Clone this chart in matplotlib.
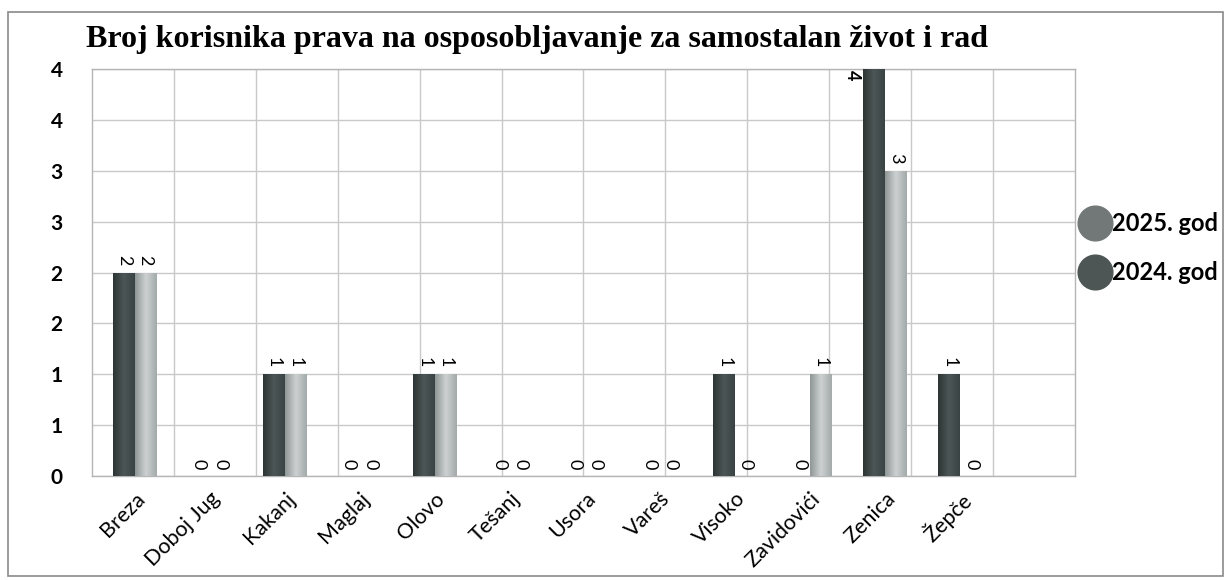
import matplotlib.pyplot as plt
import numpy as np
from matplotlib.colors import LinearSegmentedColormap
from matplotlib.patches import Rectangle
from matplotlib.lines import Line2D

categories = ["Breza", "Doboj Jug", "Kakanj", "Maglaj", "Olovo", "Tešanj",
              "Usora", "Vareš", "Visoko", "Zavidovići", "Zenica", "Žepče"]
god_2024 = [2, 0, 1, 0, 1, 0, 0, 0, 1, 0, 4, 1]
god_2025 = [2, 0, 1, 0, 1, 0, 0, 0, 0, 1, 3, 0]
y_ticks = [0, 0.5, 1, 1.5, 2, 2.5, 3, 3.5, 4]
y_labels = ["0", "1", "1", "2", "2", "3", "3", "4", "4"]

title = "Broj korisnika prava na osposobljavanje za samostalan život i rad"

dark_cmap = LinearSegmentedColormap.from_list("dark", ["#2c3434", "#4d5656", "#3a4343"])
light_cmap = LinearSegmentedColormap.from_list("light", ["#8f9696", "#cdd1d1", "#a3aaaa"])

fig = plt.figure(figsize=(12.31, 5.8), dpi=100)
fig.patches.append(Rectangle((8 / 1231, 4 / 580), 1215 / 1231, 564 / 580,
                             transform=fig.transFigure, fill=False,
                             edgecolor="#8a8a8a", linewidth=1.2))
ax = fig.add_axes([0.0747, 0.1793, 0.7986, 0.7017])

x = np.arange(len(categories))
width = 0.29
ax.set_xlim(-0.57, 12.53)
ax.set_ylim(0, 4)

bars_a = ax.bar(x - width / 2, god_2024, width, color="#3c4545", zorder=3)
bars_b = ax.bar(x + width / 2, god_2025, width, color="#b4b9b9", zorder=3)

# horizontal gradient inside each bar
grad = np.linspace(0, 1, 64).reshape(1, -1)
for bars, cmap in ((bars_a, dark_cmap), (bars_b, light_cmap)):
    for b in bars:
        h = b.get_height()
        if h <= 0:
            continue
        x0 = b.get_x()
        im = ax.imshow(grad, cmap=cmap, aspect="auto", zorder=4,
                       extent=(x0, x0 + b.get_width(), 0, h))
        im.set_clip_path(b)

# value labels, rotated like the original
for bars, vals in ((bars_a, god_2024), (bars_b, god_2025)):
    for b, v in zip(bars, vals):
        cx = b.get_x() + b.get_width() / 2
        if v >= 4:
            ax.annotate(str(v), (b.get_x(), v), xytext=(-2, -1), textcoords="offset points",
                        rotation=270, ha="right", va="top", fontsize=13,
                        family="Lato", fontweight="bold", annotation_clip=False, zorder=6)
        else:
            ax.annotate(str(v), (cx, v), xytext=(0, 5), textcoords="offset points",
                        rotation=270, ha="center", va="bottom", fontsize=13,
                        family="Lato", zorder=6)

ax.set_yticks(y_ticks)
ax.set_yticklabels(y_labels, fontsize=15, fontweight="bold", family="Lato")
ax.tick_params(axis="y", length=0, pad=21)
ax.set_xticks(x)
ax.set_xticklabels(categories, rotation=45, ha="right", rotation_mode="anchor",
                   fontsize=15.5, family="Lato")
ax.tick_params(axis="x", length=0, pad=9)

ax.grid(axis="y", color="#c9c9c9", linewidth=1.0, zorder=0)
for k in range(1, 12):
    ax.axvline(ax.get_xlim()[0] + k * (ax.get_xlim()[1] - ax.get_xlim()[0]) / 12,
               color="#c9c9c9", linewidth=1.0, zorder=0)
ax.set_axisbelow(True)
for s in ax.spines.values():
    s.set_color("#b5b5b5")
    s.set_linewidth(1.0)

fig.text(86 / 1231, 1 - 47 / 580, title, fontsize=23, fontweight="bold",
         family="Liberation Serif", ha="left", va="baseline")

handles = [
    Line2D([], [], marker="o", linestyle="", markersize=25, color="#727878"),
    Line2D([], [], marker="o", linestyle="", markersize=25, color="#4e5555"),
]
leg = fig.legend(handles, ["2025. god", "2024. god"], loc="center left",
                 bbox_to_anchor=(1062 / 1231, 1 - 248 / 580), frameon=False,
                 handlelength=1.0, handletextpad=0.2, labelspacing=1.1,
                 prop={"family": "Lato", "weight": "bold", "size": 17})

fig.savefig("out.png", dpi=100)
